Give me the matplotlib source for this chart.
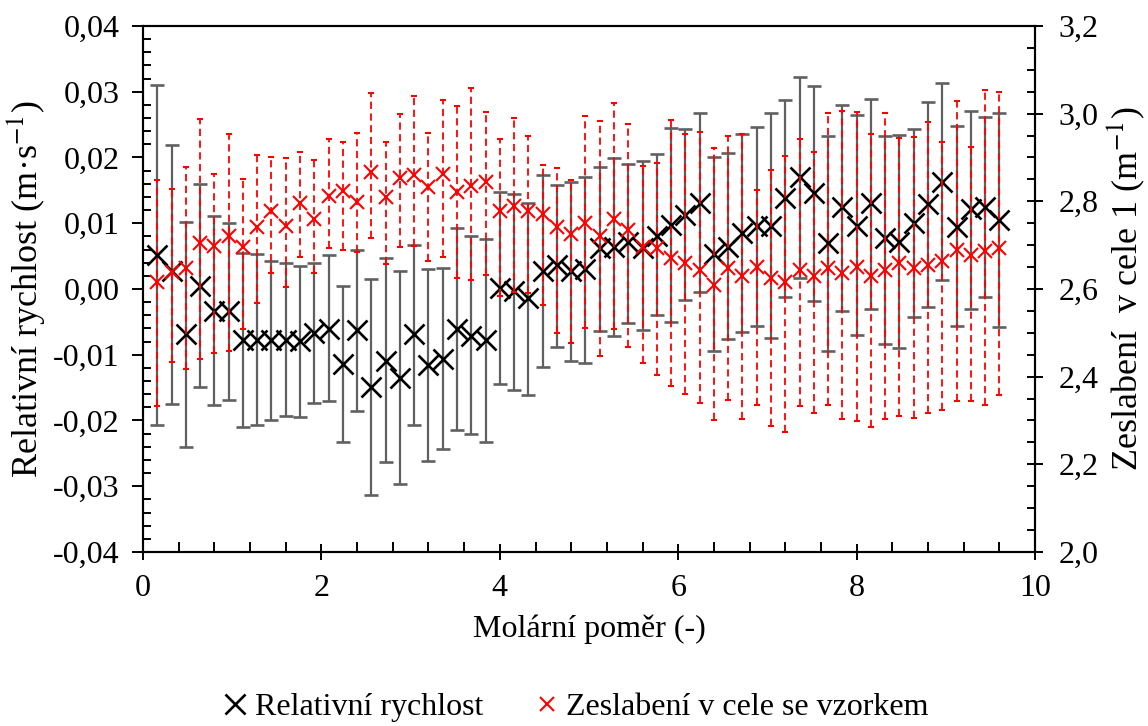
import numpy as np
import matplotlib.pyplot as plt
from matplotlib.ticker import MultipleLocator, FuncFormatter
from matplotlib.lines import Line2D

plt.rcParams['font.family'] = ['Liberation Serif', 'DejaVu Serif']
plt.rcParams['mathtext.fontset'] = 'stix'

# molarni pomer
x = np.arange(1, 61) * 0.16

# relativni rychlost (m/s) - stred, horni a dolni konec chyby
rel = np.array([0.51, 0.27, -0.69, 0.05, -0.33, -0.34, -0.78, -0.78, -0.78, -0.78,
                -0.79, -0.67, -0.61, -1.14, -0.63, -1.49, -1.09, -1.35, -0.69, -1.15,
                -1.06, -0.61, -0.71, -0.78, 0.01, -0.03, -0.13, 0.27, 0.36, 0.27,
                0.31, 0.62, 0.64, 0.71, 0.63, 0.81, 0.97, 1.12, 1.31, 0.53,
                0.64, 0.85, 0.96, 0.96, 1.38, 1.71, 1.46, 0.70, 1.24, 0.96,
                1.31, 0.77, 0.72, 1.01, 1.30, 1.63, 0.95, 1.21, 1.25, 1.05]) * 0.01
rel_hi = np.array([3.11, 2.19, 1.02, 1.60, 1.11, 1.00, 0.54, 0.53, 0.43, 0.40,
                   0.35, 0.40, 0.51, 0.04, 0.59, 0.15, 0.47, 0.28, 0.67, 0.31,
                   0.32, 0.92, 0.81, 0.76, 1.47, 1.44, 1.31, 1.73, 1.58, 1.62,
                   1.71, 1.85, 1.99, 1.90, 1.94, 2.05, 2.45, 2.43, 2.67, 2.00,
                   2.07, 2.36, 2.46, 2.68, 2.87, 3.23, 3.09, 2.33, 2.80, 2.64,
                   2.89, 2.33, 2.34, 2.43, 2.85, 3.14, 2.48, 2.71, 2.62, 2.67]) * 0.01
rel_lo = np.array([-2.07, -1.75, -2.41, -1.49, -1.77, -1.69, -2.10, -2.07, -1.99, -1.93,
                   -1.94, -1.73, -1.70, -2.32, -1.85, -3.13, -2.63, -2.97, -2.07, -2.61,
                   -2.44, -2.14, -2.20, -2.32, -1.45, -1.53, -1.61, -1.19, -0.88, -1.10,
                   -1.12, -0.64, -0.72, -0.51, -0.63, -0.39, -0.50, -0.16, -0.05, -0.94,
                   -0.76, -0.66, -0.56, -0.75, -0.12, 0.17, -0.18, -0.94, -0.34, -0.70,
                   -0.30, -0.84, -0.89, -0.43, -0.27, 0.13, -0.57, -0.30, -0.12, -0.58]) * 0.01

# zeslabeni v cele se vzorkem (1/m)
zes = np.array([2.615, 2.639, 2.647, 2.704, 2.698, 2.720, 2.696, 2.741, 2.777, 2.743,
                2.797, 2.759, 2.813, 2.824, 2.798, 2.867, 2.810, 2.854, 2.860, 2.833,
                2.863, 2.821, 2.834, 2.845, 2.777, 2.789, 2.777, 2.770, 2.741, 2.725,
                2.750, 2.720, 2.759, 2.734, 2.695, 2.693, 2.671, 2.659, 2.644, 2.609,
                2.647, 2.630, 2.650, 2.624, 2.615, 2.644, 2.630, 2.647, 2.636, 2.650,
                2.629, 2.644, 2.659, 2.647, 2.654, 2.663, 2.689, 2.678, 2.687, 2.693])
zes_hi = np.array([2.849, 2.828, 2.879, 2.987, 2.863, 2.954, 2.851, 2.905, 2.902, 2.899,
                   2.912, 2.894, 2.942, 2.936, 2.956, 3.047, 2.936, 2.999, 3.041, 2.957,
                   3.031, 3.017, 3.058, 3.004, 2.942, 2.989, 2.948, 2.884, 2.875, 2.848,
                   2.995, 2.984, 3.025, 2.977, 2.881, 2.887, 2.986, 2.953, 2.959, 2.921,
                   2.948, 2.954, 2.825, 2.872, 2.903, 2.942, 2.912, 3.002, 3.007, 3.004,
                   2.954, 3.002, 2.944, 2.947, 2.980, 2.935, 3.028, 2.924, 3.053, 3.049])
zes_lo = np.array([2.333, 2.434, 2.417, 2.441, 2.455, 2.459, 2.509, 2.567, 2.636, 2.605,
                   2.672, 2.636, 2.693, 2.689, 2.684, 2.717, 2.657, 2.696, 2.698, 2.663,
                   2.674, 2.626, 2.620, 2.633, 2.585, 2.593, 2.590, 2.564, 2.500, 2.477,
                   2.512, 2.447, 2.509, 2.468, 2.432, 2.404, 2.378, 2.360, 2.339, 2.300,
                   2.347, 2.303, 2.335, 2.288, 2.273, 2.332, 2.318, 2.335, 2.303, 2.299,
                   2.284, 2.303, 2.311, 2.306, 2.318, 2.323, 2.345, 2.344, 2.335, 2.357])

fig = plt.figure(figsize=(11.48, 7.26), dpi=100)
ax = fig.add_axes([0.1246, 0.2397, 0.777, 0.7245])
ax2 = ax.twinx()

ax.errorbar(x, rel, yerr=[rel - rel_lo, rel_hi - rel], fmt='x', color='black',
            ms=14, mew=1.9, ecolor='#606060', elinewidth=1.6, capsize=5, capthick=1.6)
eb = ax2.errorbar(x, zes, yerr=[zes - zes_lo, zes_hi - zes], fmt='x', color='red',
                  ms=10, mew=1.5, ecolor='red', elinewidth=1.3, capsize=2.5, capthick=1.3)
eb[2][0].set_linestyle((0, (4, 2.5)))

ax.set_xlim(0, 10)
ax.set_ylim(-0.04, 0.04)
ax2.set_ylim(2.0, 3.2)

ax.xaxis.set_major_locator(MultipleLocator(2))
ax.xaxis.set_minor_locator(MultipleLocator(0.4))
ax.yaxis.set_major_locator(MultipleLocator(0.01))
ax.yaxis.set_minor_locator(MultipleLocator(0.002))
ax2.yaxis.set_major_locator(MultipleLocator(0.2))
ax2.yaxis.set_minor_locator(MultipleLocator(0.05))

def comma(fmt):
    def f(v, pos):
        if abs(v) < 1e-9:
            v = 0.0
        return fmt.format(v).replace('.', ',')
    return FuncFormatter(f)

ax.xaxis.set_major_formatter(FuncFormatter(lambda v, p: '%d' % round(v)))
ax.yaxis.set_major_formatter(comma('{:.2f}'))
ax2.yaxis.set_major_formatter(comma('{:.1f}'))

fs = 23
ax.tick_params(axis='x', which='major', direction='inout', length=12, width=1.4, labelsize=fs, pad=10)
ax.tick_params(axis='x', which='minor', direction='in', length=7, width=1.4)
ax.tick_params(axis='y', which='major', direction='out', length=8, width=1.4, labelsize=fs, pad=9)
ax.tick_params(axis='y', which='minor', direction='in', length=6, width=1.4)
ax2.tick_params(axis='y', which='major', direction='inout', length=12, width=1.4, labelsize=fs, pad=11)
ax2.tick_params(axis='y', which='minor', direction='in', length=6, width=1.4)

for a in (ax, ax2):
    for s in a.spines.values():
        s.set_linewidth(1.5)

ax.set_xlabel('Molární poměr (-)', fontsize=fs, labelpad=8)
ax.set_ylabel('Relativní rychlost (m·s$^{-1}$)', fontsize=26, labelpad=4)
ax2.set_ylabel('Zeslabení  v cele 1 (m$^{-1}$)', fontsize=26, labelpad=4)

handles = [Line2D([], [], marker='x', color='black', ls='none', ms=14, mew=1.9),
           Line2D([], [], marker='x', color='red', ls='none', ms=10, mew=1.5)]
fig.legend(handles, ['Relativní rychlost', 'Zeslabení v cele se vzorkem'],
           loc='center', bbox_to_anchor=(0.5, 0.026), ncol=2, frameon=False,
           fontsize=fs, handletextpad=0.1, columnspacing=1.5, handlelength=1.0)

fig.savefig('out.png', dpi=100)
